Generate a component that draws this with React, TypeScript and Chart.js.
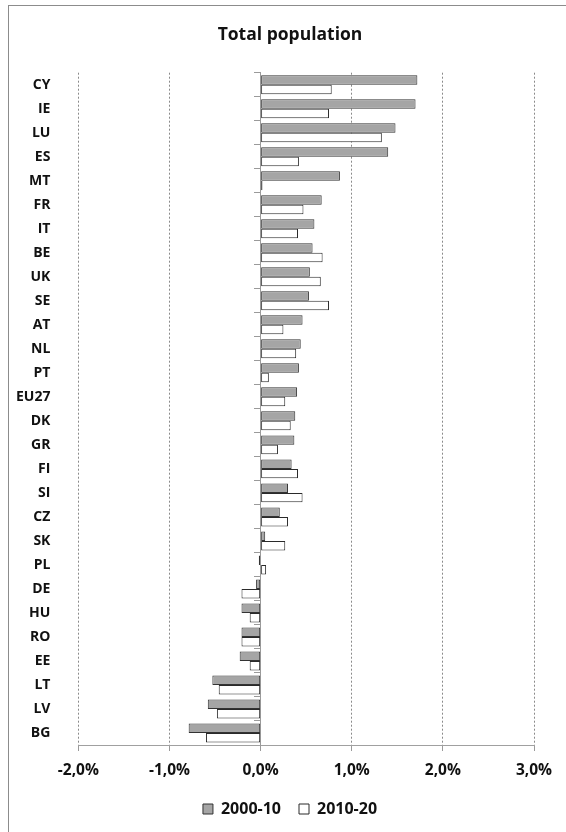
import React, { useEffect, useRef } from 'react';
import { Chart, registerables } from 'chart.js';

Chart.register(...registerables);

const countries = ['CY', 'IE', 'LU', 'ES', 'MT', 'FR', 'IT', 'BE', 'UK', 'SE', 'AT', 'NL', 'PT', 'EU27', 'DK', 'GR', 'FI', 'SI', 'CZ', 'SK', 'PL', 'DE', 'HU', 'RO', 'EE', 'LT', 'LV', 'BG'];
const growth2000_10 = [1.72, 1.70, 1.48, 1.40, 0.87, 0.67, 0.59, 0.57, 0.54, 0.53, 0.46, 0.44, 0.42, 0.40, 0.38, 0.37, 0.34, 0.30, 0.21, 0.05, -0.02, -0.05, -0.21, -0.21, -0.23, -0.53, -0.58, -0.79];
const growth2010_20 = [0.78, 0.75, 1.33, 0.42, 0.02, 0.47, 0.41, 0.68, 0.66, 0.75, 0.25, 0.39, 0.09, 0.27, 0.33, 0.19, 0.41, 0.46, 0.30, 0.27, 0.06, -0.21, -0.12, -0.21, -0.12, -0.46, -0.48, -0.60];
const seriesLabels = ['2000-10', '2010-20'];
const xTicks = [-2, -1, 0, 1, 2, 3];
const chartTitle = 'Total population';

const FONT = '"Open Sans", "Noto Sans", sans-serif';

export default function App() {
  const ref = useRef<HTMLCanvasElement | null>(null);

  useEffect(() => {
    if (!ref.current) return;
    const chart = new Chart(ref.current, {
      type: 'bar',
      data: {
        labels: countries,
        datasets: [
          {
            label: seriesLabels[0],
            data: growth2000_10,
            backgroundColor: '#a5a5a5',
            borderColor: '#333333',
            borderWidth: 1,
            borderSkipped: false,
            categoryPercentage: 0.79,
            barPercentage: 1.0,
          },
          {
            label: seriesLabels[1],
            data: growth2010_20,
            backgroundColor: '#ffffff',
            borderColor: '#2a2a2a',
            borderWidth: 1,
            borderSkipped: false,
            categoryPercentage: 0.79,
            barPercentage: 1.0,
          },
        ],
      },
      options: {
        indexAxis: 'y',
        responsive: false,
        animation: false,
        devicePixelRatio: 1,
        layout: { padding: { left: 0, right: 0, top: 0, bottom: 5 } },
        scales: {
          x: {
            type: 'linear',
            min: xTicks[0],
            max: xTicks[xTicks.length - 1],
            ticks: {
              stepSize: 1,
              padding: 10.2,
              color: '#111',
              font: { family: FONT, size: 15.5, weight: 'bold' },
              callback: (v: any) => Number(v).toFixed(1).replace('.', ',') + '%',
            },
            grid: {
              color: '#8a8a8a',
              lineWidth: 1,
              tickLength: 6,
              tickColor: '#9a9a9a',
            },
            border: { display: true, color: '#a0a0a0', dash: [2, 2] },
            afterFit: (scale: any) => {
              scale.height = 38;
            },
          },
          y: {
            type: 'category',
            position: 'left',
            grid: { display: false },
            border: { display: false },
            ticks: {
              padding: 20,
              color: '#111',
              font: { family: FONT, size: 14, weight: 'bold' },
              autoSkip: false,
            },
            afterFit: (scale: any) => {
              scale.width = 69.4;
            },
          },
          y2: {
            type: 'category',
            position: { x: 0 } as any,
            offset: true,
            ticks: { display: false },
            grid: {
              offset: true,
              drawOnChartArea: false,
              tickLength: 6,
              tickColor: '#9a9a9a',
              color: '#9a9a9a',
            },
            border: { display: true, color: '#9a9a9a', width: 1 },
            afterFit: (scale: any) => {
              scale.width = 0;
            },
          },
          yRight: {
            type: 'category',
            position: 'right',
            offset: true,
            ticks: { display: false },
            grid: { display: false },
            border: { display: false },
            afterFit: (scale: any) => {
              scale.width = 37;
            },
          },
        },
        plugins: {
          title: {
            display: true,
            text: chartTitle,
            color: '#111',
            font: { family: FONT, size: 17.5, weight: 'bold' },
            padding: { top: 18.8, bottom: 26.9 },
          },
          legend: {
            display: true,
            position: 'bottom',
            labels: {
              boxWidth: 10,
              boxHeight: 10,
              padding: 18,
              color: '#111',
              font: { family: FONT, size: 16, weight: 'bold' },
            },
          },
          tooltip: { enabled: false },
        },
      },
    });
    return () => chart.destroy();
  }, []);

  return (
    <div
      style={{
        position: 'absolute',
        left: 8,
        top: 5,
        width: 557,
        height: 826,
        borderLeft: '1px solid #8c8c8c',
        borderTop: '1px solid #8c8c8c',
        overflow: 'hidden',
        background: '#fff',
      }}
    >
      <canvas ref={ref} width={562} height={826} style={{ display: 'block', width: 562, height: 826 }} />
    </div>
  );
}
